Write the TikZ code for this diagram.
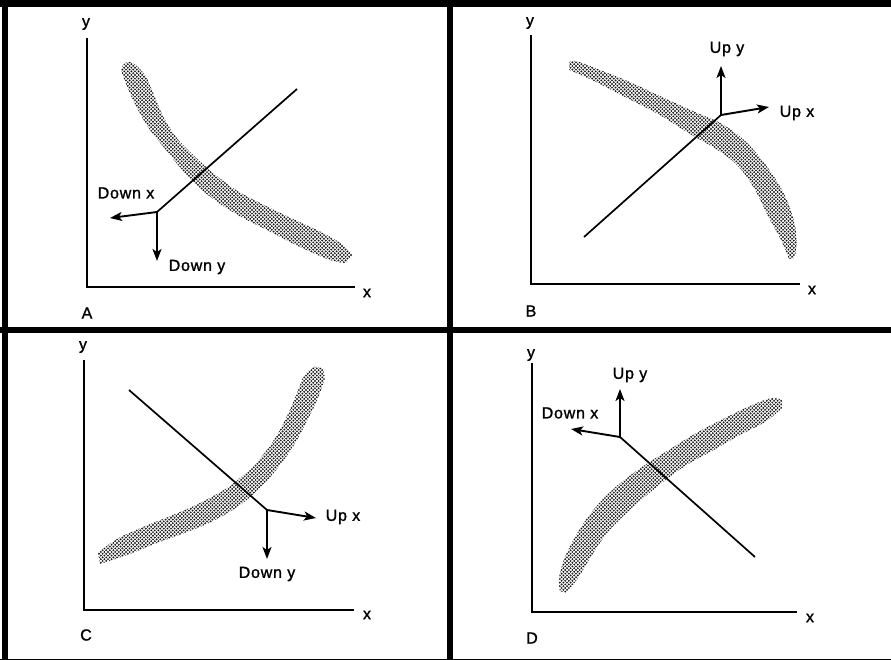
\documentclass[tikz,border=0pt]{standalone}
\usepackage{fontspec}
\setmainfont{Liberation Sans}
\newfontfamily\labfont[LetterSpace=5,FakeBold=1.3]{Liberation Sans}
\usetikzlibrary{arrows.meta,patterns.meta}
\tikzdeclarepattern{name=bandots, type=uncolored,
  bottom left={(-1.5pt,-1.5pt)}, top right={(5pt,5pt)},
  tile size={(3.6pt,3.6pt)},
  code={\fill (0pt,0pt) circle (1.05pt); \fill (1.8pt,1.8pt) circle (1.05pt);}}
\begin{document}
\begin{tikzpicture}[x=1pt,y=-1pt,
  axis/.style={line width=2pt},
  curveline/.style={line width=1.7pt},
  arr/.style={line width=1.9pt,-{Stealth[length=12pt,width=9pt,inset=3pt]}},
  lab/.style={font=\labfont\fontsize{16}{18}\selectfont, inner sep=0pt},
  band/.style={pattern=bandots, pattern color=black!90}]
\useasboundingbox (0,0) rectangle (891,660);
% frames
\fill (2,0) rectangle (8,660);
\fill (0,0) rectangle (891,7);
\fill (447,0) rectangle (453,660);
\fill (0,327) rectangle (891,333);
\fill (0,658.7) rectangle (891,660);

% ---------------- Panel A
\fill[band] plot[smooth,tension=0.6] coordinates {(123,65) (131,62) (145,75) (154,95) (163,116) (176,137) (192,154) (212,172) (236,190) (264,205) (293,219) (323,233) (343,245) (352,255)}
  -- plot[smooth,tension=0.6] coordinates {(346,263) (330,260) (300,247) (267,230) (236,214) (208,195) (186,174) (166,150) (148,127) (135,104) (126,84) (121,70)} -- cycle;
\coordinate (Ao) at (87,287);
\coordinate (Ayt) at (87,38);
\coordinate (Axt) at (355,287);
\draw[axis] (Ayt) -- (Ao) -- (Axt);
\coordinate (Ae) at (297,89);
\coordinate (Aj) at (157,212);
\coordinate (Adx) at (110,218);
\coordinate (Ady) at (157,261);
\draw[curveline] (Ae) -- (Aj);
\draw[arr] (Aj) -- (Adx);
\draw[arr] (Aj) -- (Ady);
\node[lab] (Ay) at (86,24) {y};
\node[lab] (Ax) at (367,293) {x};
\node[lab] (Al) at (87,313) {A};
\node[lab] (Adxl) at (126,193) {Down x};
\node[lab] (Adyl) at (197,267) {Down y};

% ---------------- Panel B
\fill[band] plot[smooth,tension=0.6] coordinates {(569,63) (576,61) (605,72) (632,83) (662,97) (695,112) (722,124) (745,141) (765,164) (782,190) (793,217) (797,243) (794,258)}
  -- plot[smooth,tension=0.6] coordinates {(789,259) (781,240) (768,216) (754,188) (737,165) (716,149) (690,134) (658,114) (625,97) (592,80) (569,70)} -- cycle;
\coordinate (Bo) at (531,284);
\coordinate (Byt) at (531,35);
\coordinate (Bxt) at (800,284);
\draw[axis] (Byt) -- (Bo) -- (Bxt);
\coordinate (Be) at (584,237);
\coordinate (Bj) at (721,115);
\coordinate (Buy) at (721,66);
\coordinate (Bux) at (769,107);
\draw[curveline] (Be) -- (Bj);
\draw[arr] (Bj) -- (Buy);
\draw[arr] (Bj) -- (Bux);
\node[lab] (By) at (530,23) {y};
\node[lab] (Bx) at (812,290) {x};
\node[lab] (Bl) at (531,311) {B};
\node[lab] (Buyl) at (727,49) {Up y};
\node[lab] (Buxl) at (797,113) {Up x};

% ---------------- Panel C
\fill[band] plot[smooth,tension=0.6] coordinates {(98,553) (117,539) (143,527) (173,515) (200,503) (227,488) (247,472) (263,455) (277,435) (288,414) (297,393) (304,376) (314,367) (323,369)}
  -- plot[smooth,tension=0.6] coordinates {(325,378) (318,398) (308,419) (294,445) (280,465) (262,486) (240,505) (213,521) (187,532) (157,543) (127,555) (100,564)} -- cycle;
\coordinate (Co) at (84,610);
\coordinate (Cyt) at (84,360);
\coordinate (Cxt) at (354,610);
\draw[axis] (Cyt) -- (Co) -- (Cxt);
\coordinate (Ce) at (129,390);
\coordinate (Cj) at (267,510);
\coordinate (Cux) at (316,518);
\coordinate (Cdy) at (267,559);
\draw[curveline] (Ce) -- (Cj);
\draw[arr] (Cj) -- (Cux);
\draw[arr] (Cj) -- (Cdy);
\node[lab] (Cy) at (83,347) {y};
\node[lab] (Cx) at (367,615) {x};
\node[lab] (Cl) at (86,635) {C};
\node[lab] (Cuxl) at (343,517) {Up x};
\node[lab] (Cdyl) at (267,574) {Down y};

% ---------------- Panel D
\fill[band] plot[smooth,tension=0.6] coordinates {(560,591) (559,578) (565,557) (578,532) (595,508) (618,485) (645,465) (672,448) (698,432) (725,418) (752,405) (772,398) (782,400)}
  -- plot[smooth,tension=0.6] coordinates {(782,408) (765,422) (738,436) (712,451) (685,466) (658,486) (632,508) (608,532) (592,555) (578,578) (566,593)} -- cycle;
\coordinate (Do) at (532,612);
\coordinate (Dyt) at (532,363);
\coordinate (Dxt) at (797,612);
\draw[axis] (Dyt) -- (Do) -- (Dxt);
\coordinate (De) at (755,557);
\coordinate (Dj) at (620,437);
\coordinate (Duy) at (620,389);
\coordinate (Ddx) at (571,429);
\draw[curveline] (De) -- (Dj);
\draw[arr] (Dj) -- (Duy);
\draw[arr] (Dj) -- (Ddx);
\node[lab] (Dy) at (531,355) {y};
\node[lab] (Dx) at (810,618) {x};
\node[lab] (Dl) at (532,638) {D};
\node[lab] (Duyl) at (630,375) {Up y};
\node[lab] (Ddxl) at (570,413) {Down x};
\end{tikzpicture}
\end{document}
